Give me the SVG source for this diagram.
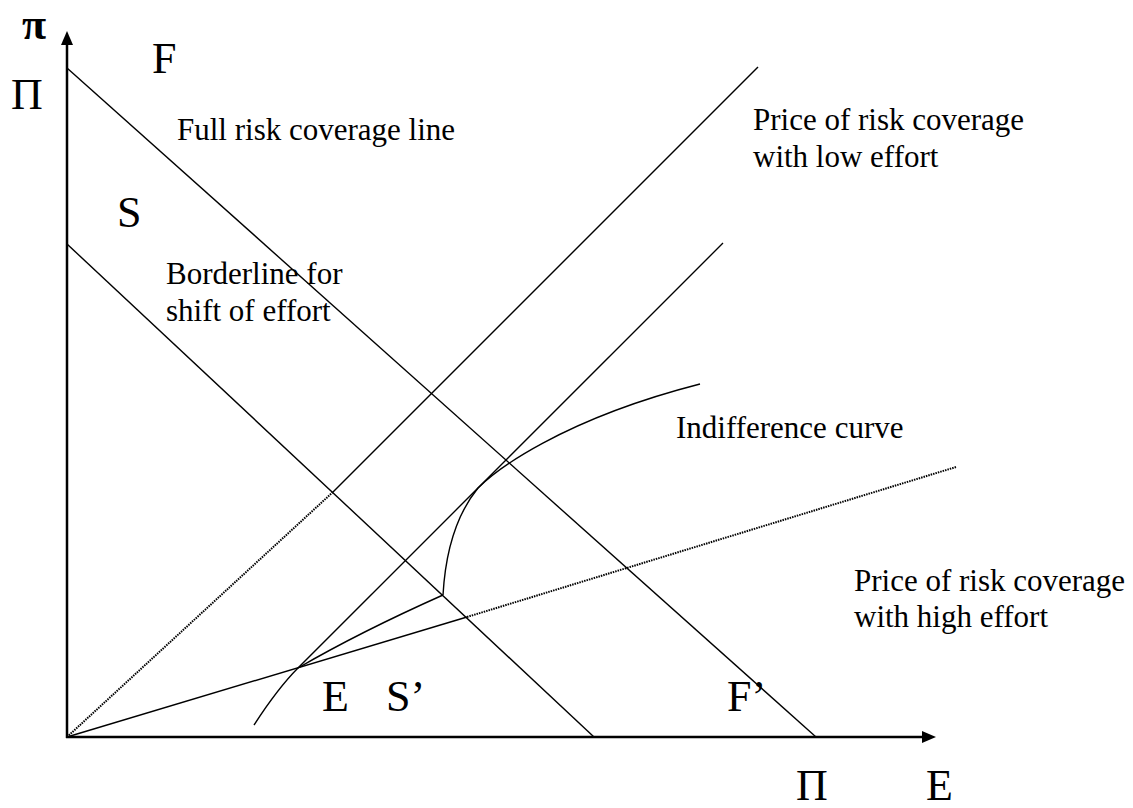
<svg xmlns="http://www.w3.org/2000/svg" width="1133" height="808" viewBox="0 0 1133 808">
<style>
.ln{fill:none;stroke:#000;stroke-width:1.4}
.dot{fill:none;stroke:#000;stroke-width:2;stroke-dasharray:1.5 1}
.ax{fill:none;stroke:#000;stroke-width:2.5}
.big{font-family:"Liberation Serif","Times New Roman",serif;font-size:44px;fill:#000}
.lbl{font-family:"Liberation Serif","Times New Roman",serif;font-size:31px;fill:#000}
</style>
<rect width="1133" height="808" fill="#fff"/>
<g id="axes">
<line class="ax" x1="67" y1="738" x2="67" y2="44"/>
<polygon points="67,31 61,45 73,45"/>
<line class="ax" x1="66" y1="737" x2="923" y2="737"/>
<polygon points="936,737 922,731 922,743"/>
</g>
<g id="connectors">
<line id="full-risk" class="ln" x1="67" y1="68" x2="816" y2="737"/>
<line id="borderline" class="ln" x1="67" y1="244" x2="594" y2="737"/>
<line id="low-effort-dotted" class="dot" x1="67" y1="737" x2="333" y2="492"/>
<line id="low-effort" class="ln" x1="333" y1="492" x2="758" y2="67"/>
<line id="high-effort" class="ln" x1="67" y1="737" x2="467" y2="617"/>
<line id="high-effort-dotted" class="dot" x1="467" y1="617" x2="956" y2="467"/>
<path id="tangent" class="ln" d="M254,725 Q278,688 298,668 L723,243"/>
<path id="indiff-low" class="ln" d="M298,668 Q360,632 443,595"/>
<path id="indiff-high" class="ln" d="M443,595 C445,560 452,520 478,488 C495,471 560,420 700,384"/>
</g>
<g id="labels">
<text class="big" x="22" y="39" style="font-size:44px;font-weight:bold">π</text>
<text class="big" x="11" y="109">Π</text>
<text class="big" x="152" y="73">F</text>
<text class="big" x="117" y="227">S</text>
<text class="big" x="322" y="711">E</text>
<text class="big" x="386" y="711">S’</text>
<text class="big" x="727" y="711">F’</text>
<text class="big" x="796" y="800">Π</text>
<text class="big" x="926" y="800">E</text>
<text class="lbl" x="177" y="140">Full risk coverage line</text>
<text class="lbl" x="753" y="130">Price of risk coverage</text>
<text class="lbl" x="753" y="167">with low effort</text>
<text class="lbl" x="166" y="284">Borderline for</text>
<text class="lbl" x="166" y="321">shift of effort</text>
<text class="lbl" x="676" y="438">Indifference curve</text>
<text class="lbl" x="854" y="591">Price of risk coverage</text>
<text class="lbl" x="854" y="627">with high effort</text>
</g>
</svg>
